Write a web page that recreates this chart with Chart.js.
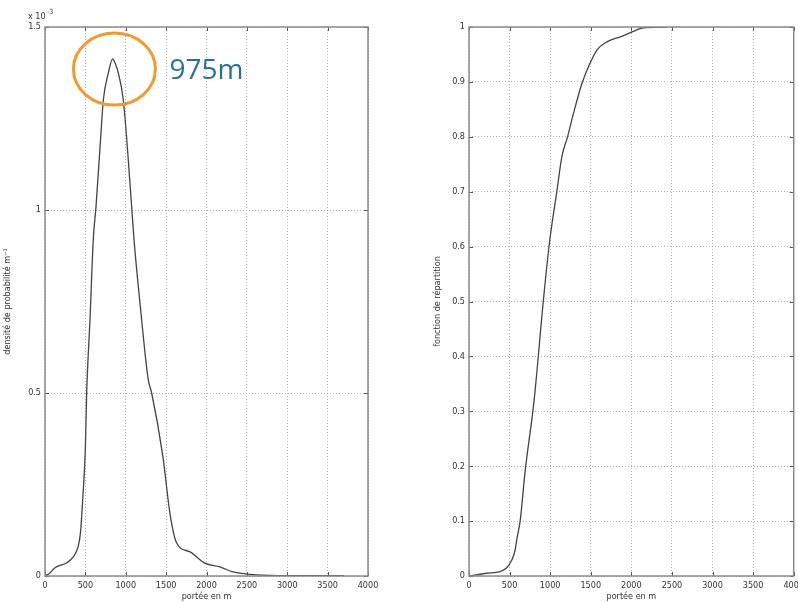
<!DOCTYPE html>
<html>
<head>
<meta charset="utf-8">
<script src="https://cdn.jsdelivr.net/npm/chart.js@4"></script>
<style>
  body { margin: 0; background: #fff; width: 798px; height: 602px; position: relative; overflow: hidden; }
  .box { position: absolute; top: 0; height: 602px; }
  #left { left: 0; width: 399px; }
  #right { left: 430px; width: 378px; }
</style>
</head>
<body>
<div class="box" id="left"><canvas id="densChart"></canvas></div>
<div class="box" id="right"><canvas id="cdfChart"></canvas></div>
<script>
// portée (m) et densité (x 10^-3)
const densX = [0, 60, 120, 270, 350, 410, 440, 470, 500, 516, 557, 598, 632, 690, 722, 784, 838, 870, 908, 970,
  1073, 1102, 1156, 1197, 1238, 1280, 1321, 1461, 1548, 1631, 1796, 1981, 2167, 2328, 2625, 3000, 3700];
const densY = [0, 0.008, 0.022, 0.036, 0.052, 0.08, 0.12, 0.22, 0.35, 0.5, 0.7, 0.92, 1.01, 1.2, 1.3, 1.374, 1.413, 1.4, 1.374, 1.3,
  1.01, 0.92, 0.79, 0.7, 0.61, 0.535, 0.5, 0.325, 0.17, 0.09, 0.066, 0.035, 0.025, 0.011, 0.003, 0.001, 0.001];

// fonction de répartition
const cdfX = [0, 218, 383, 465, 527, 568, 588, 630, 691, 802, 917, 991, 1082, 1144, 1214, 1288, 1391, 1473, 1576,
  1700, 1864, 2009, 2132, 2440];
const cdfY = [0, 0.005, 0.008, 0.015, 0.029, 0.047, 0.066, 0.1, 0.19, 0.32, 0.503, 0.607, 0.7, 0.764, 0.8, 0.843, 0.897,
  0.928, 0.958, 0.973, 0.982, 0.991, 0.998, 1.0];

const peakLabel = "975m";
const peakAt = { x: 860, y: 1.385 };

const tickFont = { family: "DejaVu Sans Condensed, DejaVu Sans, sans-serif", size: 9 };
const gridStyle = { color: "#b0b0b0", lineWidth: 1, drawTicks: false };
const plain = (v) => String(parseFloat(Number(v).toFixed(3)));

// cadre et petites graduations intérieures façon Matlab
const boxPlugin = {
  id: "box",
  afterDraw(chart) {
    const { ctx, chartArea: a, scales } = chart;
    ctx.save();
    ctx.strokeStyle = "#555";
    ctx.lineWidth = 1;
    scales.x.ticks.forEach((t) => {
      const px = Math.round(scales.x.getPixelForValue(t.value)) + 0.5;
      ctx.beginPath();
      ctx.moveTo(px, a.bottom); ctx.lineTo(px, a.bottom - 4);
      ctx.moveTo(px, a.top); ctx.lineTo(px, a.top + 4);
      ctx.stroke();
    });
    scales.y.ticks.forEach((t) => {
      const py = Math.round(scales.y.getPixelForValue(t.value)) + 0.5;
      ctx.beginPath();
      ctx.moveTo(a.left, py); ctx.lineTo(a.left + 4, py);
      ctx.moveTo(a.right, py); ctx.lineTo(a.right - 4, py);
      ctx.stroke();
    });
    ctx.strokeStyle = "#8a8a8a";
    ctx.lineWidth = 1.5;
    ctx.strokeRect(a.left, a.top, a.right - a.left, a.bottom - a.top);
    ctx.restore();
  },
};

// facteur x10^-3 et annotation du pic
const notePlugin = {
  id: "note",
  afterDraw(chart) {
    const { ctx, chartArea: a, scales } = chart;
    ctx.save();
    ctx.fillStyle = "#333";
    ctx.font = "9px DejaVu Sans Condensed, DejaVu Sans, sans-serif";
    ctx.textBaseline = "alphabetic";
    ctx.fillText("x 10", a.left - 17, a.top - 8);
    ctx.font = "7px DejaVu Sans Condensed, DejaVu Sans, sans-serif";
    ctx.fillText("-3", a.left + 2, a.top - 13);

    const cx = scales.x.getPixelForValue(peakAt.x);
    const cy = scales.y.getPixelForValue(peakAt.y);
    ctx.strokeStyle = "#f39a2e";
    ctx.lineWidth = 3;
    ctx.beginPath();
    ctx.ellipse(cx, cy, 41, 36, 0, 0, Math.PI * 2);
    ctx.stroke();
    ctx.fillStyle = "#2a6f9b";
    ctx.font = "28px 'Open Sans', sans-serif";
    ctx.fillText(peakLabel, cx + 55, cy + 10);
    ctx.restore();
  },
};

function makeChart(id, xs, ys, yOpts, padRight, yWidth, title) {
  return new Chart(document.getElementById(id), {
    type: "line",
    data: {
      datasets: [{
        data: xs.map((x, i) => ({ x: x, y: ys[i] })),
        borderColor: "#444",
        borderWidth: 1.3,
        pointRadius: 0,
        cubicInterpolationMode: "monotone",
        fill: false,
      }],
    },
    options: {
      responsive: true,
      maintainAspectRatio: false,
      animation: false,
      layout: { autoPadding: false, padding: { top: 27, right: padRight, left: 0, bottom: 0 } },
      plugins: { legend: { display: false }, tooltip: { enabled: false } },
      scales: {
        x: {
          type: "linear", min: 0, max: 4000,
          grid: gridStyle, border: { display: false, dash: [1, 2] },
          ticks: { stepSize: 500, padding: 4, color: "#333", font: tickFont, maxRotation: 0, callback: plain },
          title: { display: true, text: "portée en m", color: "#333", font: tickFont, padding: 0 },
          afterFit(s) { s.height = 26; },
        },
        y: Object.assign({
          grid: gridStyle, border: { display: false, dash: [1, 2] },
          title: { display: true, text: title, color: "#333", font: tickFont, padding: 2 },
          afterFit(s) { s.width = yWidth; },
        }, yOpts),
      },
    },
    plugins: id === "densChart" ? [boxPlugin, notePlugin] : [boxPlugin],
  });
}

makeChart("densChart", densX, densY, {
  min: 0, max: 1.5,
  ticks: { stepSize: 0.5, padding: 4, color: "#333", font: tickFont, callback: plain },
}, 31, 45, "densité de probabilité m\u207B\u00B9");

makeChart("cdfChart", cdfX, cdfY, {
  min: 0, max: 1,
  ticks: { stepSize: 0.1, padding: 4, color: "#333", font: tickFont, callback: plain },
}, 5, 39, "fonction de répartition");
</script>
</body>
</html>
